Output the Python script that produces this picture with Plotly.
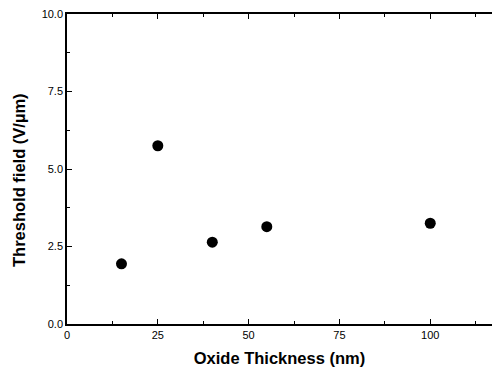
import plotly.graph_objects as go

thickness = [15, 25, 40, 55, 100]
threshold = [1.94, 5.75, 2.64, 3.14, 3.25]
x_ticks = [0, 25, 50, 75, 100]
y_ticks = [0.0, 2.5, 5.0, 7.5, 10.0]

fig = go.Figure()
fig.add_trace(go.Scatter(
    x=thickness, y=threshold, mode="markers",
    marker=dict(color="black", size=11, line=dict(width=0)),
    showlegend=False, cliponaxis=False,
))

font = "Liberation Sans, Arial, sans-serif"
fig.update_layout(
    width=492, height=367,
    margin=dict(l=67, r=0, t=14, b=43),
    paper_bgcolor="white", plot_bgcolor="white",
    font=dict(family=font, color="black", size=11),
    xaxis=dict(
        range=[0, 117], tickvals=x_ticks, ticktext=[str(v) for v in x_ticks],
        ticks="inside", ticklen=5, tickwidth=1, tickcolor="black",
        minor=dict(dtick=12.5, tick0=0, ticks="inside", ticklen=3, tickcolor="black", showgrid=False),
        showline=True, linecolor="black", linewidth=1.5, mirror="ticks",
        showgrid=False, zeroline=False,
        tickfont=dict(size=11, family=font),
        title=dict(text="<b>Oxide Thickness (nm)</b>", font=dict(size=16.5, family=font), standoff=14),
    ),
    yaxis=dict(
        range=[0, 10], tickvals=y_ticks, ticktext=[f"{v:.1f}" for v in y_ticks],
        ticks="inside", ticklen=5, tickwidth=1, tickcolor="black",
        minor=dict(dtick=1.25, tick0=0, ticks="inside", ticklen=3, tickcolor="black", showgrid=False),
        showline=True, linecolor="black", linewidth=1.5, mirror=False,
        showgrid=False, zeroline=False,
        tickfont=dict(size=11, family=font),
    ),
    annotations=[dict(
        text="<b>Threshold field (V/µm)</b>", textangle=-90,
        xref="paper", yref="paper", x=-0.113, y=0.4645,
        xanchor="center", yanchor="middle", showarrow=False,
        font=dict(size=16.5, family=font, color="black"),
    )],
)

fig.write_html("out.html")
